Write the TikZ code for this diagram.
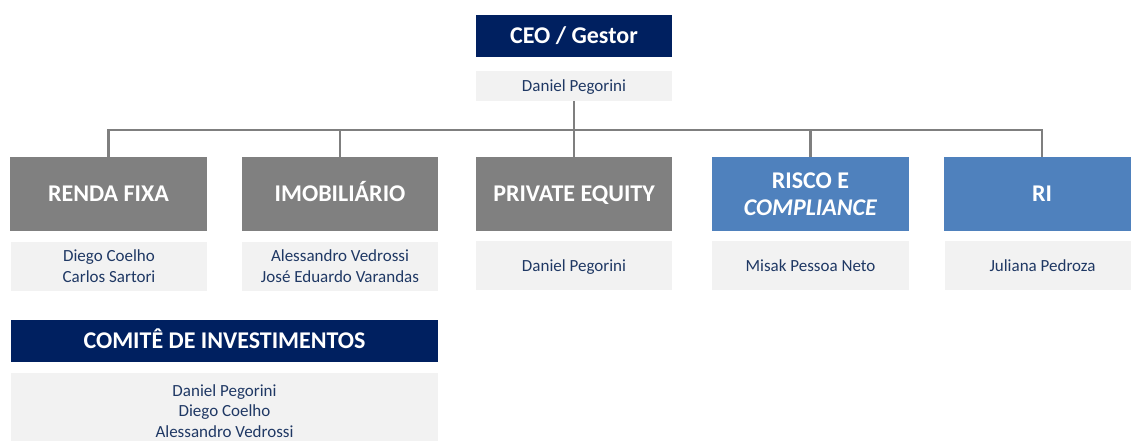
\documentclass[tikz,border=0pt]{standalone}
\usepackage{fontspec}
\setmainfont{Carlito}
\definecolor{navyc}{RGB}{0,32,96}
\definecolor{grayc}{RGB}{128,128,128}
\definecolor{bluec}{RGB}{79,129,189}
\definecolor{lightc}{RGB}{242,242,242}
\definecolor{namec}{RGB}{31,56,100}
\definecolor{linec}{RGB}{127,127,127}
\begin{document}
\begin{tikzpicture}[x=1pt,y=-1pt,
  box/.style={draw=none, inner sep=0pt, align=center, text=white,
    font=\fontsize{24}{27}\selectfont\bfseries},
  one/.style={text height=15pt, text depth=0pt},
  onename/.style={text height=11pt, text depth=0pt},
  navyb/.style={box, fill=navyc},
  grayb/.style={box, fill=grayc},
  blueb/.style={box, fill=bluec},
  namebox/.style={fill=lightc, inner sep=0pt, align=center, text=namec,
    font=\fontsize{17}{20.5}\selectfont},
  conn/.style={draw=linec, line width=2.6pt}]
\useasboundingbox (0,0) rectangle (1131,441);
\clip (0,0) rectangle (1131,441);
\node[navyb, one, minimum width=196pt, minimum height=42pt] (ceo) at (574,36) {CEO / Gestor};
\node[namebox, onename, minimum width=196pt, minimum height=30pt] (ceoname) at (574,86) {Daniel Pegorini};

\node[grayb, one, minimum width=197pt, minimum height=74pt] (rf) at (108.5,194) {RENDA FIXA};
\node[grayb, one, minimum width=196pt, minimum height=74pt] (im) at (340,194) {IMOBILIÁRIO};
\node[grayb, one, minimum width=196pt, minimum height=74pt] (pe) at (574,194) {PRIVATE EQUITY};
\node[blueb, minimum width=197pt, minimum height=74pt] (rc) at (810.5,194) {RISCO E\\\textit{COMPLIANCE}};
\node[blueb, one, minimum width=196pt, minimum height=74pt] (ri) at (1042,194) {RI};

\node[namebox, minimum width=196pt, minimum height=49pt] (rfn) at (109,266) {Diego Coelho\\Carlos Sartori};
\node[namebox, minimum width=196pt, minimum height=49pt] (imn) at (340,266) {Alessandro Vedrossi\\José Eduardo Varandas};
\node[namebox, onename, minimum width=196pt, minimum height=49pt] (pen) at (574,265.5) {Daniel Pegorini};
\node[namebox, onename, minimum width=197pt, minimum height=49pt] (rcn) at (810.5,265.5) {Misak Pessoa Neto};
\node[namebox, onename, minimum width=196pt, minimum height=49pt] (rin) at (1042.5,265.5) {Juliana Pedroza};

\node[navyb, one, minimum width=427pt, minimum height=42pt] (com) at (224.5,341) {COMITÊ DE INVESTIMENTOS};
\node[namebox, minimum width=427pt, minimum height=76pt] (comn) at (224.5,411) {Daniel Pegorini\\Diego Coelho\\Alessandro Vedrossi};

\coordinate (bus) at (574,130);
\draw[conn] (ceoname.south) -- (pe.north);
\draw[conn] (rf.north) -- (rf.north |- bus) -- (ri.north |- bus) -- (ri.north);
\draw[conn] (im.north) -- (im.north |- bus);
\draw[conn] (rc.north) -- (rc.north |- bus);
\end{tikzpicture}
\end{document}
